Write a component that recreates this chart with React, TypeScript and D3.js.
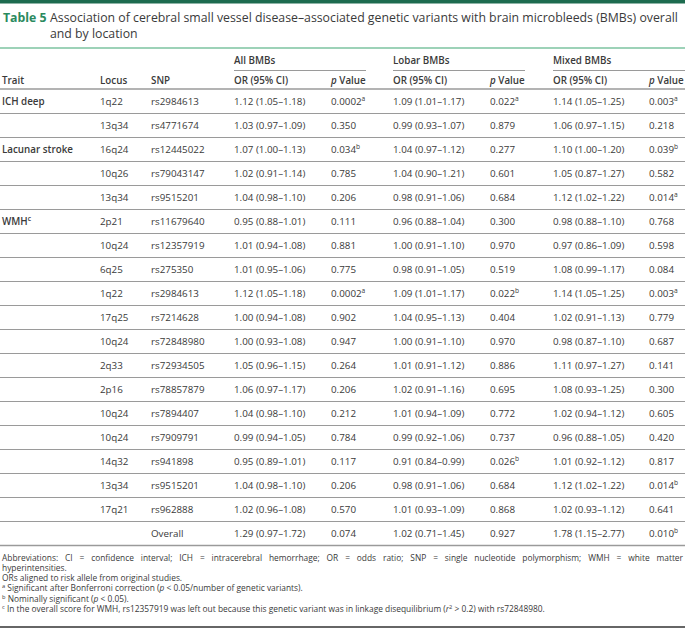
import React, { useMemo } from "react";
import * as d3 from "d3";

const W = 685;
const H = 635;

const traits = ["ICH deep", "", "Lacunar stroke", "", "", "WMH^c", "", "", "", "", "", "", "", "", "", "", "", "", ""];
const loci = ["1q22", "13q34", "16q24", "10q26", "13q34", "2p21", "10q24", "6q25", "1q22", "17q25", "10q24", "2q33", "2p16", "10q24", "10q24", "14q32", "13q34", "17q21", ""];
const snps = ["rs2984613", "rs4771674", "rs12445022", "rs79043147", "rs9515201", "rs11679640", "rs12357919", "rs275350", "rs2984613", "rs7214628", "rs72848980", "rs72934505", "rs78857879", "rs7894407", "rs7909791", "rs941898", "rs9515201", "rs962888", "Overall"];
const allOR = ["1.12 (1.05–1.18)", "1.03 (0.97–1.09)", "1.07 (1.00–1.13)", "1.02 (0.91–1.14)", "1.04 (0.98–1.10)", "0.95 (0.88–1.01)", "1.01 (0.94–1.08)", "1.01 (0.95–1.06)", "1.12 (1.05–1.18)", "1.00 (0.94–1.08)", "1.00 (0.93–1.08)", "1.05 (0.96–1.15)", "1.06 (0.97–1.17)", "1.04 (0.98–1.10)", "0.99 (0.94–1.05)", "0.95 (0.89–1.01)", "1.04 (0.98–1.10)", "1.02 (0.96–1.08)", "1.29 (0.97–1.72)"];
const allP = ["0.0002^a", "0.350", "0.034^b", "0.785", "0.206", "0.111", "0.881", "0.775", "0.0002^a", "0.902", "0.947", "0.264", "0.206", "0.212", "0.784", "0.117", "0.206", "0.570", "0.074"];
const lobarOR = ["1.09 (1.01–1.17)", "0.99 (0.93–1.07)", "1.04 (0.97–1.12)", "1.04 (0.90–1.21)", "0.98 (0.91–1.06)", "0.96 (0.88–1.04)", "1.00 (0.91–1.10)", "0.98 (0.91–1.05)", "1.09 (1.01–1.17)", "1.04 (0.95–1.13)", "1.00 (0.91–1.10)", "1.01 (0.91–1.12)", "1.02 (0.91–1.16)", "1.01 (0.94–1.09)", "0.99 (0.92–1.06)", "0.91 (0.84–0.99)", "0.98 (0.91–1.06)", "1.01 (0.93–1.09)", "1.02 (0.71–1.45)"];
const lobarP = ["0.022^a", "0.879", "0.277", "0.601", "0.684", "0.300", "0.970", "0.519", "0.022^b", "0.404", "0.970", "0.886", "0.695", "0.772", "0.737", "0.026^b", "0.684", "0.868", "0.927"];
const mixedOR = ["1.14 (1.05–1.25)", "1.06 (0.97–1.15)", "1.10 (1.00–1.20)", "1.05 (0.87–1.27)", "1.12 (1.02–1.22)", "0.98 (0.88–1.10)", "0.97 (0.86–1.09)", "1.08 (0.99–1.17)", "1.14 (1.05–1.25)", "1.02 (0.91–1.13)", "0.98 (0.87–1.10)", "1.11 (0.97–1.27)", "1.08 (0.93–1.25)", "1.02 (0.94–1.12)", "0.96 (0.88–1.05)", "1.01 (0.92–1.12)", "1.12 (1.02–1.22)", "1.02 (0.93–1.12)", "1.78 (1.15–2.77)"];
const mixedP = ["0.003^a", "0.218", "0.039^b", "0.582", "0.014^a", "0.768", "0.598", "0.084", "0.003^a", "0.779", "0.687", "0.141", "0.300", "0.605", "0.420", "0.817", "0.014^b", "0.641", "0.010^b"];

const groupHeaders = ["All BMBs", "Lobar BMBs", "Mixed BMBs"];
const colHeaders = ["Trait", "Locus", "SNP", "OR (95% CI)", "p Value", "OR (95% CI)", "p Value", "OR (95% CI)", "p Value"];

const titleLabel = "Table 5";
const titleLines = [
  "Association of cerebral small vessel disease–associated genetic variants with brain microbleeds (BMBs) overall",
  "and by location",
];
const footnotes = [
  "Abbreviations: CI = confidence interval; ICH = intracerebral hemorrhage; OR = odds ratio; SNP = single nucleotide polymorphism; WMH = white matter",
  "hyperintensities.",
  "ORs aligned to risk allele from original studies.",
  "^a Significant after Bonferroni correction (|p| < 0.05/number of genetic variants).",
  "^b Nominally significant (|p| < 0.05).",
  "^c In the overall score for WMH, rs12357919 was left out because this genetic variant was in linkage disequilibrium (|r|^2 > 0.2) with rs72848980.",
];

const FONT = "'Open Sans', 'Noto Sans', sans-serif";
const TEXT = "#3a3a3a";
const GREEN_DARK = "#1d6b4f";
const GREEN = "#2a8a5e";
const GREEN_LIGHT = "#7cc3a0";
const RULE = "#9a9a9a";

function renderRich(s: string, size: number, keyBase: string) {
  const parts: React.ReactNode[] = [];
  const re = /(\^[a-z0-9])|(\|[^|]+\|)/g;
  let last = 0;
  let m: RegExpExecArray | null;
  let i = 0;
  let prevSup = false;
  while ((m = re.exec(s)) !== null) {
    if (m.index > last) {
      parts.push(
        <tspan key={keyBase + i++} dy={prevSup ? size * 0.38 : 0}>
          {s.slice(last, m.index)}
        </tspan>
      );
      prevSup = false;
    }
    if (m[1]) {
      parts.push(
        <tspan key={keyBase + i++} fontSize={size * 0.68} dy={prevSup ? 0 : -size * 0.38}>
          {m[1].slice(1)}
        </tspan>
      );
      prevSup = true;
    } else if (m[2]) {
      parts.push(
        <tspan key={keyBase + i++} fontStyle="italic" dy={prevSup ? size * 0.38 : 0}>
          {m[2].slice(1, -1)}
        </tspan>
      );
      prevSup = false;
    }
    last = re.lastIndex;
  }
  if (last < s.length) {
    parts.push(
      <tspan key={keyBase + i++} dy={prevSup ? size * 0.38 : 0}>
        {s.slice(last)}
      </tspan>
    );
  }
  return parts;
}

export default function App() {
  const colX = [2, 100, 151, 234, 331, 393, 490, 553, 649];
  const groupSpans: [number, number][] = [
    [234, 366],
    [393, 525],
    [553, 685],
  ];
  const headerBottom = 89;
  const tableBottom = 545;
  const rows = d3.range(snps.length);
  const y = d3.scaleBand<number>().domain(rows).range([headerBottom, tableBottom]);
  const fs = 9.8;
  const tfs = 12.3;
  const ffs = 8.4;

  const columns = [traits, loci, snps, allOR, allP, lobarOR, lobarP, mixedOR, mixedP];

  const justifySpacing = useMemo(() => {
    try {
      const ctx = document.createElement("canvas").getContext("2d");
      if (!ctx) return 0;
      ctx.font = `${ffs}px 'Open Sans'`;
      const w = ctx.measureText(footnotes[0]).width;
      const spaces = (footnotes[0].match(/ /g) || []).length;
      const target = 683 - 2;
      const ws = (target - w) / spaces;
      return ws > 0 && ws < 12 ? ws : 0;
    } catch (e) {
      return 0;
    }
  }, []);

  return (
    <svg
      width={W}
      height={H}
      style={{ position: "absolute", left: 0, top: 0, background: "#fff" }}
      fontFamily={FONT}
    >
      <rect x={0} y={0} width={W} height={H} fill="#fff" />
      <rect x={0} y={0} width={W} height={3.5} fill={GREEN_DARK} />
      <text x={3} y={22} fontSize={tfs} fontWeight={700} fill={GREEN}>
        {titleLabel}
      </text>
      {titleLines.map((t, i) => (
        <text key={"t" + i} x={50} y={22 + i * 16} fontSize={tfs} fill={TEXT}>
          {t}
        </text>
      ))}
      <line x1={0} x2={W} y1={48} y2={48} stroke={GREEN_LIGHT} strokeWidth={1.5} />

      {groupHeaders.map((g, i) => (
        <g key={"g" + i}>
          <text x={groupSpans[i][0]} y={64} fontSize={fs} fontWeight={600} fill={TEXT}>
            {g}
          </text>
          <line x1={groupSpans[i][0]} x2={groupSpans[i][1]} y1={70.5} y2={70.5} stroke={RULE} strokeWidth={1.2} />
        </g>
      ))}
      {colHeaders.map((h, i) => (
        <text key={"h" + i} x={colX[i]} y={84} fontSize={fs} fontWeight={600} fill={TEXT}>
          {h.startsWith("p ") ? (
            <>
              <tspan fontStyle="italic">p</tspan>
              <tspan>{h.slice(1)}</tspan>
            </>
          ) : (
            h
          )}
        </text>
      ))}
      <line x1={0} x2={W} y1={headerBottom} y2={headerBottom} stroke={RULE} strokeWidth={1.5} />

      {rows.map((r) => {
        const cy = (y(r) as number) + y.bandwidth() / 2;
        return (
          <g key={"r" + r}>
            {columns.map((col, c) => (
              <text
                key={c}
                x={colX[c]}
                y={cy + 3.5}
                fontSize={fs}
                fontWeight={c === 0 ? 600 : 400}
                fill={TEXT}
              >
                {renderRich(col[r], fs, "s" + r + "_" + c)}
              </text>
            ))}
            <line
              x1={0}
              x2={W}
              y1={(y(r) as number) + y.bandwidth() + 0.5}
              y2={(y(r) as number) + y.bandwidth() + 0.5}
              stroke={RULE}
              strokeWidth={r === rows.length - 1 ? 1.5 : 1}
            />
          </g>
        );
      })}

      {footnotes.map((f, i) => (
        <text
          key={"f" + i}
          x={2}
          y={560.5 + i * 10.3}
          fontSize={ffs}
          fill={TEXT}
          wordSpacing={i === 0 ? justifySpacing : undefined}
        >
          {renderRich(f, ffs, "f" + i)}
        </text>
      ))}
      <line x1={0} x2={W} y1={627} y2={627} stroke="#333" strokeWidth={1.5} />
    </svg>
  );
}
